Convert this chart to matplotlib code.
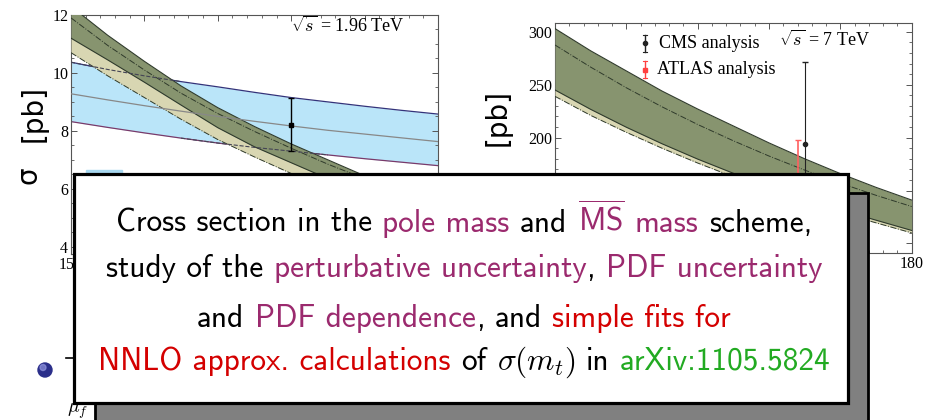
import matplotlib
matplotlib.use("Agg")
import matplotlib.pyplot as plt
from matplotlib.patches import Rectangle, Circle
from matplotlib.ticker import MultipleLocator

plt.rcParams["mathtext.fontset"] = "cm"
plt.rcParams["font.family"] = "Liberation Serif"

# top mass grid [GeV]
MT = [155, 157.5, 160, 162.5, 165, 167.5, 170, 172.5, 175, 177.5, 180]

# Tevatron, sqrt(s) = 1.96 TeV  [pb]
TEV_GREEN_UP = [12.3, 11.3, 10.4, 9.55, 8.8, 8.15, 7.55, 7.0, 6.45, 5.95, 5.5]
TEV_GREEN_MID = [11.9, 10.95, 10.1, 9.3, 8.6, 7.98, 7.4, 6.85, 6.35, 5.88, 5.45]
TEV_GREEN_LO = [11.2, 10.45, 9.68, 8.89, 8.11, 7.45, 6.9, 6.35, 5.85, 5.4, 5.0]
TEV_BEIGE_LO = [10.7, 9.9, 9.15, 8.4, 7.7, 7.1, 6.53, 6.0, 5.5, 5.05, 4.65]
TEV_BLUE_UP = [10.37, 10.12, 9.9, 9.7, 9.52, 9.33, 9.15, 9.0, 8.85, 8.71, 8.58]
TEV_BLUE_MID = [9.28, 9.07, 8.87, 8.68, 8.50, 8.33, 8.17, 8.02, 7.89, 7.76, 7.63]
TEV_BLUE_LO = [8.32, 8.12, 7.93, 7.75, 7.58, 7.43, 7.30, 7.17, 7.04, 6.92, 6.80]
TEV_MEAS = (170.0, 8.22, 0.93)

# LHC, sqrt(s) = 7 TeV  [pb]
LHC_GREEN_UP = [303, 282, 263, 244, 227, 211, 195, 180, 166, 153, 141]
LHC_GREEN_MID = [287.5, 266.6, 247.1, 229.1, 212.4, 197.0, 182.6, 169.3, 157.0, 145.5, 134.9]
LHC_GREEN_LO = [245, 226.7, 209.8, 194.2, 179.7, 166.3, 153.9, 142.4, 131.8, 122.0, 112.3]
LHC_BEIGE_LO = [239, 221, 205, 190, 176, 163, 151, 139.5, 129, 119.5, 110]
CMS_MEAS = (172.5, 194, 77)
ATLAS_MEAS = (172.0, 150, 48)

MAG = "#9b2a6e"
RED = "#d40000"
GRN = "#22aa22"
K = "black"
BOX_LINES = [
    [("Cross section in the", K, 0), ("pole mass", MAG, 1), ("and", K, 1),
     (r"$\overline{\mathsf{MS}}$", MAG, 1), ("mass", MAG, 1), ("scheme,", K, 1)],
    [("study of the", K, 0), ("perturbative uncertainty", MAG, 1), (",", K, 0),
     ("PDF uncertainty", MAG, 1)],
    [("and", K, 0), ("PDF dependence", MAG, 1), (",", K, 0), ("and", K, 1),
     ("simple fits for", RED, 1)],
    [("NNLO approx. calculations", RED, 0), ("of", K, 1), (r"$\sigma(m_t)$", K, 1),
     ("in", K, 1), ("arXiv:1105.5824", GRN, 1)],
]
LINE_Y = [231.7, 276.7, 326.7, 370]

C_BLUE = "#bae5f9"
C_GREEN = "#87946f"
C_BEIGE = "#d8d6b2"
C_EDGE = "#2f3a2b"
FRAME = "#555555"

fig = plt.figure(figsize=(9.26, 4.2), dpi=100)
axl = fig.add_axes([71 / 926, 1 - 254 / 420, 367 / 926, 239 / 420])
axr = fig.add_axes([555 / 926, 1 - 253 / 420, 356.7 / 926, 229.7 / 420])


def style(ax, ymaj, ymin):
    ax.xaxis.set_major_locator(MultipleLocator(5))
    ax.xaxis.set_minor_locator(MultipleLocator(1))
    ax.yaxis.set_major_locator(MultipleLocator(ymaj))
    ax.yaxis.set_minor_locator(MultipleLocator(ymin))
    ax.tick_params(which="both", direction="in", top=True, right=True,
                   color=FRAME, labelsize=11.5, pad=2)
    ax.tick_params(which="major", length=4, width=0.7)
    ax.tick_params(which="minor", length=2, width=0.6)
    for s in ax.spines.values():
        s.set_color(FRAME)
        s.set_linewidth(0.8)


# ---- left: Tevatron
ax = axl
ax.fill_between(MT, TEV_BLUE_LO, TEV_BLUE_UP, color=C_BLUE, lw=0, zorder=1)
ax.plot(MT, TEV_BLUE_UP, color="#33337a", lw=0.9, zorder=2)
ax.plot(MT, TEV_BLUE_LO, color="#7a3a6a", lw=0.9, zorder=2)
ax.fill_between(MT, TEV_BEIGE_LO, TEV_GREEN_LO, color=C_BEIGE, lw=0, zorder=3)
ax.fill_between(MT, TEV_GREEN_LO, TEV_GREEN_UP, color=C_GREEN, lw=0, zorder=4)
ax.plot(MT, TEV_GREEN_UP, color=C_EDGE, lw=0.8, zorder=5)
ax.plot(MT, TEV_GREEN_LO, color=C_EDGE, lw=0.8, zorder=5)
ax.plot(MT, TEV_GREEN_MID, color=C_EDGE, lw=0.7, ls="-.", zorder=5)
ax.plot(MT, TEV_BEIGE_LO, color=C_EDGE, lw=0.7, ls="-.", zorder=5)
ax.plot(MT[:4], TEV_BLUE_UP[:4], color="#444455", lw=0.8, ls="--", zorder=6)
ax.plot(MT[3:8], TEV_BLUE_LO[3:8], color="#444455", lw=0.8, ls="--", zorder=6)
ax.plot(MT, TEV_BLUE_MID, color="#888888", lw=0.9, zorder=6)
m, s, e = TEV_MEAS
ax.errorbar(m, s, yerr=e, fmt="s", ms=3, color="k", lw=1, capsize=2, zorder=7)
ax.set_xlim(155, 180)
ax.set_ylim(3.75, 12)
style(ax, 2, 0.5)
ax.text(0.6, 0.955, r"$\sqrt{s}$ = 1.96 TeV", transform=ax.transAxes,
        fontsize=13, va="center", ha="left")

# ---- right: LHC 7 TeV
ax = axr
ax.fill_between(MT, LHC_BEIGE_LO, LHC_GREEN_LO, color=C_BEIGE, lw=0, zorder=3)
ax.fill_between(MT, LHC_GREEN_LO, LHC_GREEN_UP, color=C_GREEN, lw=0, zorder=4)
ax.plot(MT, LHC_GREEN_UP, color=C_EDGE, lw=0.8, zorder=5)
ax.plot(MT, LHC_GREEN_LO, color=C_EDGE, lw=0.8, zorder=5)
ax.plot(MT, LHC_GREEN_MID, color=C_EDGE, lw=0.7, ls="-.", zorder=5)
ax.plot(MT, LHC_BEIGE_LO, color=C_EDGE, lw=0.7, ls="-.", zorder=5)
m, s, e = ATLAS_MEAS
ax.errorbar(m, s, yerr=e, fmt="s", ms=3, color="#ff6060", lw=1.2, capsize=2, zorder=7)
m, s, e = CMS_MEAS
ax.errorbar(m, s, yerr=e, fmt="o", ms=3, color="#222222", lw=0.8, capsize=2, zorder=7)
ax.set_xlim(155, 180)
ax.set_ylim(91, 308)
style(ax, 50, 10)
# hand-made legend
for yy, col, mk, lab, xt in [(0.914, "#222222", "o", "CMS analysis", 0.292),
                             (0.797, "#ff4040", "s", "ATLAS analysis", 0.286)]:
    ax.plot([0.252, 0.252], [yy - 0.037, yy + 0.037], color=col, lw=1,
            transform=ax.transAxes)
    ax.plot([0.252], [yy], marker=mk, ms=3, color=col, transform=ax.transAxes)
    for d in (-0.037, 0.037):
        ax.plot([0.247, 0.257], [yy + d, yy + d], color=col, lw=0.8,
                transform=ax.transAxes)
    ax.text(xt, yy, lab, transform=ax.transAxes, fontsize=13, va="center")
ax.text(0.628, 0.93, r"$\sqrt{s}$ = 7 TeV", transform=ax.transAxes,
        fontsize=13, va="center", ha="left")

# tick labels that sit under the text box are not shown
fig.canvas.draw()
for lab in axl.get_xticklabels():
    lab.set_visible(lab.get_text() == "155")
for lab in axr.get_xticklabels():
    lab.set_visible(lab.get_text() == "180")
for lab in axr.get_yticklabels():
    lab.set_visible(lab.get_text() in ("200", "250", "300"))

# ---- overlay in pixel units
ov = fig.add_axes([0, 0, 1, 1], zorder=10)
ov.set_xlim(0, 926)
ov.set_ylim(420, 0)
ov.axis("off")
ov.patch.set_visible(False)

for x, y, t in [(34, 113, "[pb]"), (29, 175, "σ"), (498, 118, "[pb]"), (494, 184, "σ")]:
    ov.text(x, y, t, rotation=90, family="DejaVu Sans", fontsize=20,
            ha="center", va="center", zorder=0.5)

ov.add_patch(Rectangle((86, 170), 36, 4, color="#a8d8f0", zorder=0.6))
ov.add_patch(Circle((45, 370), 7, color="#2a2e8a", zorder=1))
ov.add_patch(Circle((43, 367.5), 3, color="#8f93dd", alpha=0.7, zorder=1.1))
ov.plot([66, 75], [358, 358], color="k", lw=1.2, zorder=1)
ov.text(78, 411, r"$\mu_f$", fontsize=14, ha="center", va="center", zorder=1)

ov.add_patch(Rectangle((95, 193), 773, 240, facecolor="#808080",
                       edgecolor="k", lw=2, zorder=1.5))
ov.add_patch(Rectangle((74, 174), 774, 229, facecolor="white",
                       edgecolor="k", lw=2.3, zorder=2))

FS = 22.5
renderer = fig.canvas.get_renderer()


def width(txt):
    t = ov.text(0, 0, txt, family="cmss10", fontsize=FS)
    w = t.get_window_extent(renderer).width
    t.remove()
    return w


space = width("n n") - width("nn")
for y, segs in zip(LINE_Y, BOX_LINES):
    items = []
    x = 0
    for txt, col, gap in segs:
        t = ov.text(0, y, txt, family="cmss10", fontsize=FS, color=col,
                    ha="left", va="baseline", zorder=3)
        if gap:
            x += space
        items.append((t, x))
        x += t.get_window_extent(renderer).width
    x0 = 464 - x / 2
    for t, dx in items:
        t.set_x(x0 + dx)

fig.savefig("out.png", dpi=100)
